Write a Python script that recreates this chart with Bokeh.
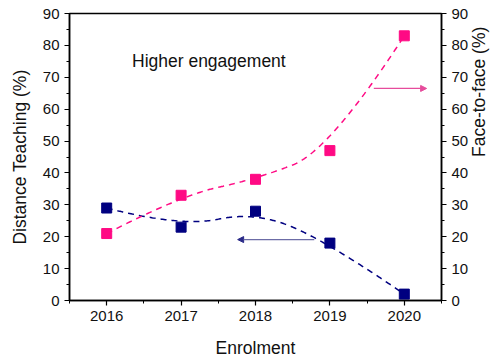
import math
import numpy as np
from bokeh.plotting import figure
from bokeh.models import Range1d, LinearAxis, FixedTicker, Arrow, NormalHead, Label
from bokeh.embed import file_html
from bokeh.resources import INLINE

# Enrolment years and the two shares (%)
years = [2016, 2017, 2018, 2019, 2020]
distance_teaching = [29, 23, 28, 18, 2]
face_to_face = [21, 33, 38, 47, 83]

x_ticks = [2016, 2017, 2018, 2019, 2020]
x_minor = [2015.5, 2016.5, 2017.5, 2018.5, 2019.5, 2020.5]
y_ticks = [0, 10, 20, 30, 40, 50, 60, 70, 80, 90]
y_minor = [5, 15, 25, 35, 45, 55, 65, 75, 85]

NAVY = "#000080"
PINK = "#ff0a84"
FONT = "Liberation Sans"
TEXT = "#111111"


def bspline(px, py, k=2, n=300):
    """Clamped B-spline curve that uses the data points as control points."""
    px = np.asarray(px, float)
    py = np.asarray(py, float)
    m = len(px)
    knots = np.concatenate([np.zeros(k), np.linspace(0, 1, m - k + 1), np.ones(k)])
    t = np.linspace(0, 1, n)
    t[-1] = 1 - 1e-12

    def basis(i, d, tt):
        if d == 0:
            return np.where((knots[i] <= tt) & (tt < knots[i + 1]), 1.0, 0.0)
        out = np.zeros_like(tt)
        den1 = knots[i + d] - knots[i]
        den2 = knots[i + d + 1] - knots[i + 1]
        if den1 > 0:
            out += (tt - knots[i]) / den1 * basis(i, d - 1, tt)
        if den2 > 0:
            out += (knots[i + d + 1] - tt) / den2 * basis(i + 1, d - 1, tt)
        return out

    B = np.array([basis(i, k, t) for i in range(m)])
    return B.T @ px, B.T @ py


p = figure(width=502, height=360, output_backend="svg", toolbar_location=None,
           x_range=Range1d(2015.5, 2020.5), y_range=Range1d(0, 90),
           min_border_left=69, min_border_right=55, min_border_top=13,
           min_border_bottom=60)
p.extra_y_ranges = {"f2f": Range1d(0, 90)}
p.xgrid.visible = False
p.ygrid.visible = False
p.outline_line_color = "black"
p.outline_line_width = 1.5
p.background_fill_color = "white"
p.border_fill_color = "white"

# Smoothed trend curves
dx, dy = bspline(years, distance_teaching)
fx, fy = bspline(years, face_to_face)
p.line(dx, dy, line_color=NAVY, line_width=1.5, line_dash="6 5")
p.line(fx, fy, line_color=PINK, line_width=1.5, line_dash="6 5", y_range_name="f2f")

# Data points
p.scatter(years, distance_teaching, marker="square", size=10,
          fill_color=NAVY, line_color=NAVY)
p.scatter(years, face_to_face, marker="square", size=10,
          fill_color=PINK, line_color=PINK, y_range_name="f2f")

# Arrows pointing to the matching axis
p.add_layout(Arrow(x_start=2018.79, y_start=19.1, x_end=2017.76, y_end=19.1,
                   line_color="#6c6ca6", line_width=1.2,
                   end=NormalHead(size=6, fill_color="#2a2a88", line_color="#2a2a88")))
p.add_layout(Arrow(x_start=2019.59, y_start=66.5, x_end=2020.30, y_end=66.5,
                   y_range_name="f2f", line_color="#e64c9c", line_width=1.2,
                   end=NormalHead(size=6, fill_color="#e64c9c", line_color="#e64c9c")))

p.add_layout(Label(x=2016.34, y=75.2, text="Higher engagement", text_font=FONT,
                   text_font_size="17.5px", text_baseline="middle", text_color=TEXT))


def style(ax, label, standoff):
    ax.axis_label = label
    ax.axis_label_text_font = FONT
    ax.axis_label_text_font_size = "17.5px"
    ax.axis_label_text_font_style = "normal"
    ax.axis_label_text_color = TEXT
    ax.axis_label_standoff = standoff
    ax.major_label_text_font = FONT
    ax.major_label_text_font_size = "15px"
    ax.major_label_text_color = TEXT
    ax.axis_line_color = "black"
    ax.axis_line_width = 1.5
    ax.major_tick_in = 0
    ax.major_tick_out = 5
    ax.minor_tick_in = 0
    ax.minor_tick_out = 3
    ax.major_tick_line_color = "black"
    ax.minor_tick_line_color = "black"
    ax.major_tick_line_width = 1.2
    ax.minor_tick_line_width = 1.0


p.xaxis.ticker = FixedTicker(ticks=x_ticks, minor_ticks=x_minor)
style(p.xaxis[0], "Enrolment", 14)
p.yaxis.ticker = FixedTicker(ticks=y_ticks, minor_ticks=y_minor)
style(p.yaxis[0], "Distance Teaching (%)", 10)

# Right-hand axis, its title reading bottom to top like the left one
right = LinearAxis(y_range_name="f2f", ticker=FixedTicker(ticks=y_ticks, minor_ticks=y_minor))
style(right, "Face-to-face (%)", 8)
right.axis_label_orientation = math.pi / 2
p.add_layout(right, "right")

open("out.html", "w").write(file_html(p, INLINE))
